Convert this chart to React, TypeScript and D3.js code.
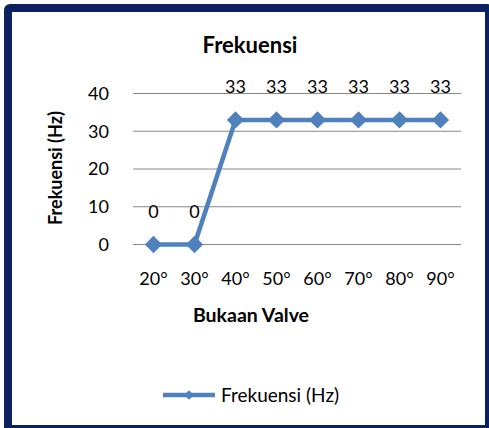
import React from 'react'
import * as d3 from 'd3'

const categories = ['20°', '30°', '40°', '50°', '60°', '70°', '80°', '90°']
const frekuensi = [0, 0, 33, 33, 33, 33, 33, 33]
const yTicks = [0, 10, 20, 30, 40]

const W = 489
const H = 428
const FONT = 'Lato, "Open Sans", sans-serif'
const BLUE = '#4f81bd'

const App = () => {
  const margin = { left: 133, right: 28, top: 93.5, bottom: 183.5 }
  const plotW = W - margin.left - margin.right
  const plotH = H - margin.top - margin.bottom

  const x = d3.scaleBand().domain(categories).range([0, plotW])
  const y = d3.scaleLinear().domain([0, 40]).range([plotH, 0])
  const cx = (c: string) => (x(c) ?? 0) + x.bandwidth() / 2

  const line = d3
    .line<number>()
    .x((_, i) => cx(categories[i]))
    .y((d) => y(d))

  const diamond = d3.symbol(d3.symbolDiamond2, 190)()
  const smallDiamond = d3.symbol(d3.symbolDiamond2, 60)()

  return (
    <svg width={W} height={H} style={{ position: 'absolute', left: 0, top: 0 }}>
      <rect x={0} y={0} width={W} height={H} fill="#fff" />
      <rect x={8} y={8} width={481} height={421} rx={2} fill="none" stroke="#0b2161" strokeWidth={8} />

      <text x={250} y={53} textAnchor="middle" fontFamily={FONT} fontWeight="bold" fontSize={22} fill="#000">
        Frekuensi
      </text>

      <g transform={`translate(${margin.left},${margin.top})`}>
        {yTicks.map((t) => (
          <g key={t}>
            <line x1={0} x2={plotW} y1={y(t)} y2={y(t)} stroke="#888" strokeWidth={1} />
            <text x={-24} y={y(t)} dy="0.35em" textAnchor="end" fontFamily={FONT} fontSize={18} fill="#000">
              {t}
            </text>
          </g>
        ))}
        {categories.map((c) => (
          <text key={c} x={cx(c)} y={plotH + 34} dy="0.35em" textAnchor="middle" fontFamily={FONT} fontSize={18} fill="#000">
            {c}
          </text>
        ))}

        <path d={line(frekuensi) ?? ''} fill="none" stroke={BLUE} strokeWidth={4.5} strokeLinejoin="round" />
        {frekuensi.map((v, i) => (
          <g key={i}>
            <path d={diamond} transform={`translate(${cx(categories[i])},${y(v)})`} fill={BLUE} />
            <text x={cx(categories[i])} y={y(v) - 33} dy="0.35em" textAnchor="middle" fontFamily={FONT} fontSize={18} fill="#000">
              {v}
            </text>
          </g>
        ))}
      </g>

      <text
        transform={`translate(56,${margin.top + plotH / 2 - 1}) rotate(-90)`}
        dy="0.35em"
        textAnchor="middle"
        fontFamily={FONT}
        fontWeight="bold"
        fontSize={18}
        fill="#000"
      >
        Frekuensi (Hz)
      </text>

      <text x={251} y={315} dy="0.35em" textAnchor="middle" fontFamily={FONT} fontWeight="bold" fontSize={19.5} fill="#000">
        Bukaan Valve
      </text>

      <g transform="translate(0,395)">
        <line x1={163} x2={215} y1={0} y2={0} stroke={BLUE} strokeWidth={4.5} />
        <path d={smallDiamond} transform="translate(189,0)" fill={BLUE} />
        <text x={221} y={0} dy="0.35em" fontFamily={FONT} fontSize={19} fill="#000">
          Frekuensi (Hz)
        </text>
      </g>
    </svg>
  )
}

export default App
